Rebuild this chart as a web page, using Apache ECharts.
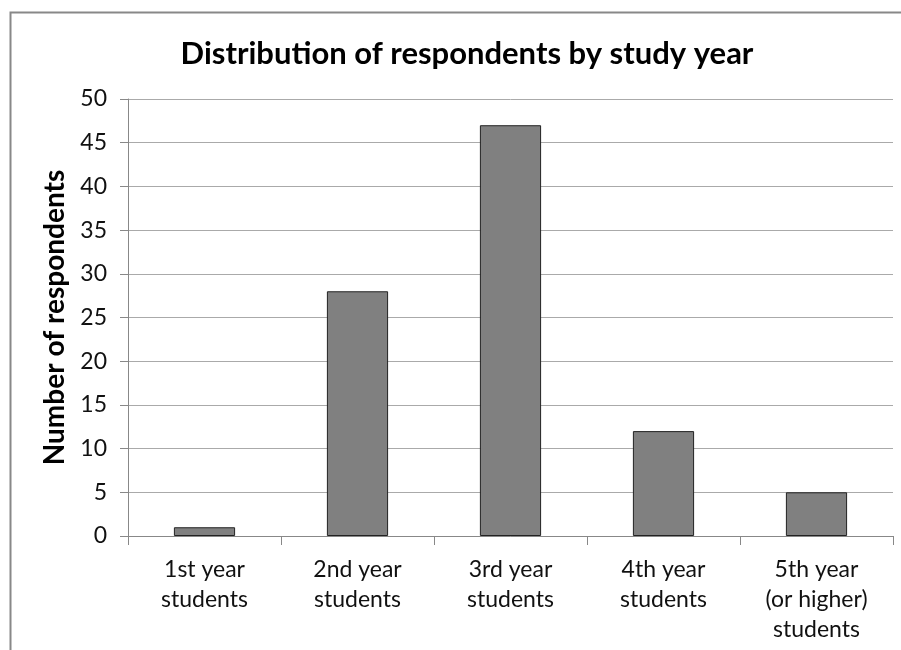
<!DOCTYPE html>
<html><head><meta charset="utf-8">
<script src="https://cdn.jsdelivr.net/npm/echarts@6/dist/echarts.min.js"></script>
<style>html,body{margin:0;padding:0;background:#fff}#c{width:901px;height:650px}</style>
</head><body><div id="c"></div>
<script>
const categories = ["1st year\nstudents", "2nd year\nstudents", "3rd year\nstudents", "4th year\nstudents", "5th year\n(or higher)\nstudents"];
const values = [1, 28, 47, 12, 5];
const titleText = "Distribution of respondents by study year";
const yAxisName = "Number of respondents";

const chart = echarts.init(document.getElementById('c'), null, {renderer: 'canvas'});
const FONT = 'Lato, "Open Sans", sans-serif';
chart.setOption({
  animation: false,
  backgroundColor: '#fff',
  graphic: [{
    type: 'rect', silent: true, z: -1,
    shape: {x: 10.5, y: 12.5, width: 1000, height: 1000},
    style: {fill: 'none', stroke: '#888', lineWidth: 2}
  }],
  title: {
    text: titleText, left: 462, top: 33, textAlign: 'center',
    textStyle: {fontFamily: FONT, fontSize: 31, fontWeight: 'bold', color: '#000'}
  },
  grid: {left: 128, right: 8, top: 99, bottom: 114},
  xAxis: {
    type: 'category', data: categories,
    axisLine: {lineStyle: {color: '#888', width: 1}},
    axisTick: {show: true, alignWithLabel: false, length: 9, lineStyle: {color: '#888'}},
    axisLabel: {fontFamily: FONT, fontSize: 23, color: '#111', lineHeight: 30, margin: 19, interval: 0}
  },
  yAxis: {
    type: 'value', min: 0, max: 50, interval: 5,
    name: yAxisName, nameLocation: 'middle', nameGap: 58,
    nameTextStyle: {fontFamily: FONT, fontSize: 28, fontWeight: 'bold', color: '#000'},
    axisLine: {show: true, lineStyle: {color: '#888'}},
    axisTick: {show: true, inside: false, length: 8, lineStyle: {color: '#888'}},
    axisLabel: {fontFamily: FONT, fontSize: 23, color: '#111', margin: 21},
    splitLine: {lineStyle: {color: '#aaa', width: 1}}
  },
  series: [{
    type: 'bar', data: values, barCategoryGap: '60%',
    itemStyle: {color: '#808080', borderColor: '#222', borderWidth: 1}
  }]
});
</script></body></html>
